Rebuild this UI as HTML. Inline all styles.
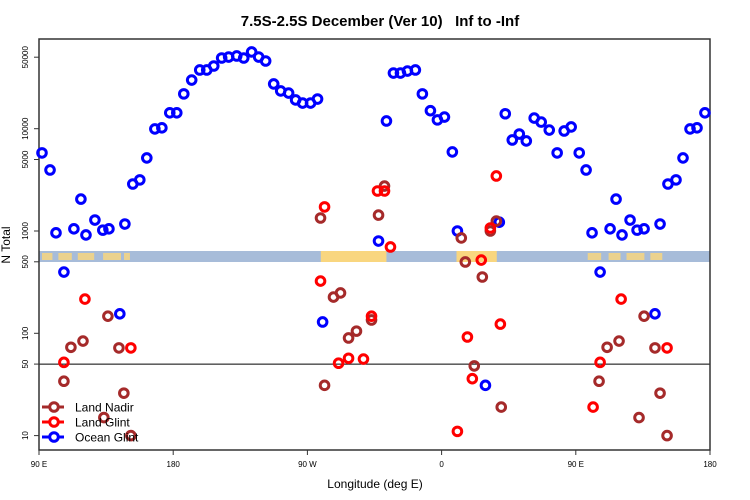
<!DOCTYPE html>
<html><head><meta charset="utf-8"><style>
body{margin:0;background:#fff}
svg{display:block;font-family:"Liberation Sans",sans-serif}
</style></head><body>
<svg id="chart" width="750" height="500">
<text x="380" y="26" text-anchor="middle" font-size="15" font-weight="bold" style="white-space:pre">7.5S-2.5S December (Ver 10)   Inf to -Inf</text>
<g id="band"></g>
<g id="axes"></g>
<g id="marks"></g>
<g id="legend"></g>
</svg>
<script>
const xTickLons=[90,180,270,360,450,540];
const xTickLabels=["90 E","180","90 W","0","90 E","180"];
const yTicks=[10,50,100,500,1000,5000,10000,50000];
const nadirLon=[106.7,111.4,119.5,133.5,136.2,143.6,146.9,151.6,278.8,281.5,287.5,292.2,297.6,302.9,313,317.7,321.7,373.2,375.9,381.9,387.3,392.7,396.7,400,465.6,471,479,492.4,495.8,503.1,506.5,511.2];
const nadirVal=[34,73,84,15,147,72,26,10,1340,31,226,248,90,105,135,1430,2750,855,498,48,355,1000,1250,19,34,73,84,15,147,72,26,10];
const glintLon=[106.7,120.8,151.6,278.8,281.5,290.9,297.6,307.6,313,317,321.7,325.7,370.6,377.3,380.6,386.6,392.7,396.7,399.4,461.6,466.3,480.4,511.2];
const glintVal=[52,216,72,324,1720,51,57,56,147,2460,2460,698,11,92,36,520,1070,3450,123,19,52,216,72];
const oceanLon=[92,97.4,101.4,106.7,113.4,118.1,121.5,127.5,132.8,136.9,144.2,147.6,152.9,157.6,162.3,167.7,172.4,177.7,182.4,187.1,192.4,197.8,202.5,207.2,212.5,217.2,222.6,227.3,232.6,237.3,242,247.4,252.1,257.4,262.1,266.8,272.1,276.8,280.2,317.7,323,327.7,332.4,337.1,342.4,347.1,352.5,357.2,361.9,367.2,370.6,389.4,398.7,402.7,407.4,412.1,416.8,422.1,426.8,432.2,437.5,442.2,446.9,452.3,456.9,460.9,466.3,473,477,481,486.4,491.1,495.8,503.1,506.5,511.8,517.2,521.9,526.6,531.3,536.6];
const oceanVal=[5800,3950,960,397,1050,2050,915,1280,1020,1050,155,1170,2880,3160,5180,9950,10200,14300,14300,21900,29900,37500,37500,41000,49100,50200,51400,49100,56300,50200,45900,27400,23400,22300,19100,17800,17800,19500,129,798,11900,35000,35000,36600,37500,21900,15000,12200,13000,5930,1000,31,1220,14000,7760,8870,7590,12700,11600,9700,5800,9500,10400,5800,3950,960,397,1050,2050,915,1280,1020,1050,155,1170,2880,3160,5180,9950,10200,14300];
const landSegLon=[[92,99],[103,112],[116,127],[133,145],[147,151],[279,323],[370,397],[458,467],[472,480],[484,496],[500,508]];

const NS="http://www.w3.org/2000/svg";
const L=39,R=710,T=39,B=450;
function xs(lon){return L+(lon-90)*(R-L)/450;}
function ys(v){return 333.3-102.3*(Math.log10(v)-2);}
function mk(tag,attrs,parent){const e=document.createElementNS(NS,tag);for(const k in attrs)e.setAttribute(k,attrs[k]);parent.appendChild(e);return e;}
const band=document.getElementById('band'),axes=document.getElementById('axes'),marks=document.getElementById('marks'),leg=document.getElementById('legend');
let r=mk('rect',{x:L,y:251,width:R-L,height:11,fill:'#a7bcd9'},band);


landSegLon.forEach(s=>{const full=(s[1]-s[0])>25;const e=mk('rect',{x:xs(s[0]),y:full?251:253,width:xs(s[1])-xs(s[0]),height:full?11:7,fill:'#fdd77a',opacity:full?0.95:0.8},band);

});
let ln=mk('line',{x1:L,x2:R,y1:ys(50),y2:ys(50),stroke:'#000','stroke-width':1},axes);


let box=mk('rect',{x:L,y:T,width:R-L,height:B-T,fill:'none',stroke:'#333','stroke-width':1.5},axes);


xTickLons.forEach((t,i)=>{const x=xs(t);mk('line',{x1:x,x2:x,y1:B,y2:B+5,stroke:'#333'},axes);
const tx=mk('text',{x:x,y:467,'font-size':8,'text-anchor':'middle'},axes);tx.textContent=xTickLabels[i];

});
yTicks.forEach(t=>{const y=ys(t);mk('line',{x1:L-5,x2:L,y1:y,y2:y,stroke:'#333'},axes);
const tx=mk('text',{x:28,y:y,'font-size':8,'text-anchor':'middle',transform:`rotate(-90 28 ${y})`},axes);tx.textContent=t;

});
let xt=mk('text',{x:375,y:488,'font-size':12,'text-anchor':'middle'},axes);xt.textContent='Longitude (deg E)';


let yt=mk('text',{x:10,y:245,'font-size':12,'text-anchor':'middle',transform:'rotate(-90 10 245)'},axes);yt.textContent='N Total';


function series(lons,vals,col,name){lons.forEach((lo,i)=>{const c=mk('circle',{cx:xs(lo),cy:ys(vals[i]),r:4.3,fill:'none',stroke:col,'stroke-width':3},marks);

});}
series(oceanLon,oceanVal,'#0000ff','ocean-glint');
series(nadirLon,nadirVal,'#a52a2a','land-nadir');
series(glintLon,glintVal,'#ff0000','land-glint');
[['Land Nadir','#a52a2a',407],['Land Glint','#ff0000',422],['Ocean Glint','#0000ff',437]].forEach(e=>{
const g=mk('g',{},leg);


mk('line',{x1:42,x2:64,y1:e[2],y2:e[2],stroke:e[1],'stroke-width':3},g);
mk('circle',{cx:54,cy:e[2],r:4.3,fill:'#fff',stroke:e[1],'stroke-width':3},g);
const t=mk('text',{x:75,y:e[2]+4.5,'font-size':12},g);t.textContent=e[0];});
</script>
</body></html>
